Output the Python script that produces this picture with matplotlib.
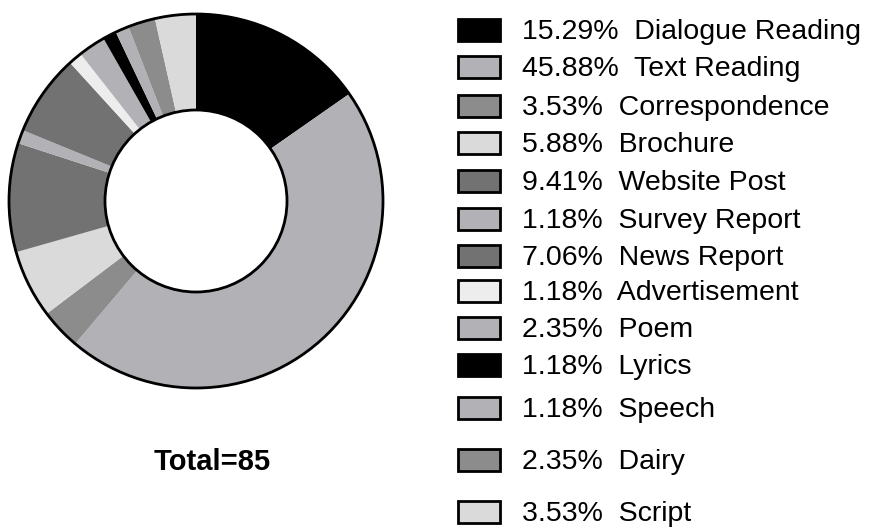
import matplotlib.pyplot as plt
from matplotlib.patches import Rectangle, Circle

plt.rcParams['font.family'] = ['Liberation Sans', 'DejaVu Sans']

categories = ['Dialogue Reading', 'Text Reading', 'Correspondence', 'Brochure',
              'Website Post', 'Survey Report', 'News Report', 'Advertisement',
              'Poem', 'Lyrics', 'Speech', 'Dairy', 'Script']
counts = [13, 39, 3, 5, 8, 1, 6, 1, 2, 1, 1, 2, 3]
percents = ['15.29%', '45.88%', '3.53%', '5.88%', '9.41%', '1.18%', '7.06%',
            '1.18%', '2.35%', '1.18%', '1.18%', '2.35%', '3.53%']
colors = ['#000000', '#b2b2b6', '#8c8c8c', '#dadada', '#727272', '#b2b2b6',
          '#727272', '#ededed', '#b2b2b6', '#000000', '#b2b2b6', '#8c8c8c', '#dadada']
# legend row centres (pixels from top), spacing is uneven in the original
row_y = [30, 67, 106, 143, 181, 219, 256, 291, 328, 365, 408, 460, 512]

W, H = 877, 529
fig = plt.figure(figsize=(W / 100, H / 100), dpi=100)

# donut
cx, cy, r_out, r_in = 196, 201, 187, 91
half = 192
ax = fig.add_axes([(cx - half) / W, (H - cy - half) / H, 2 * half / W, 2 * half / H])
ax.pie(counts, colors=colors, startangle=90, counterclock=False, radius=1,
       wedgeprops=dict(width=1 - r_in / r_out, linewidth=0))
ax.add_patch(Circle((0, 0), 1, fill=False, ec='black', lw=2))
ax.add_patch(Circle((0, 0), r_in / r_out, fill=False, ec='black', lw=2))
lim = half / r_out
ax.set_xlim(-lim, lim)
ax.set_ylim(-lim, lim)
ax.set_aspect('equal')
ax.axis('off')

fig.text(212 / W, 1 - 462 / H, 'Total=85', ha='center', va='center',
         fontsize=21, fontweight='bold')

# legend
for name, pct, col, y in zip(categories, percents, colors, row_y):
    fig.patches.append(Rectangle((458 / W, 1 - (y + 11) / H), 42 / W, 22 / H,
                                 transform=fig.transFigure, fc=col, ec='black', lw=2))
    fig.text(522 / W, 1 - (y + 2) / H, pct + '  ' + name, ha='left', va='center',
             fontsize=20.5)

fig.savefig('out.png', dpi=100)
